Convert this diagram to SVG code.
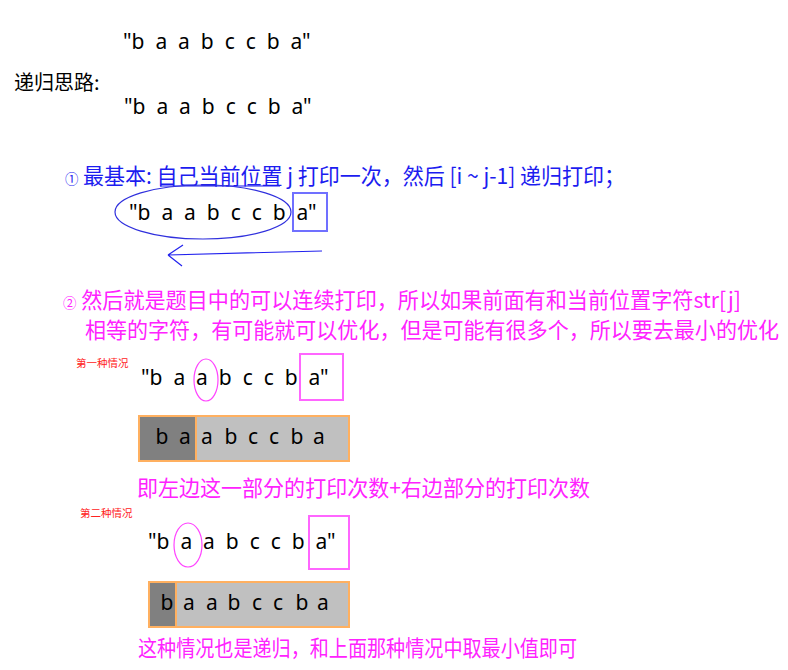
<svg xmlns="http://www.w3.org/2000/svg" width="788" height="670" viewBox="0 0 788 670">
<style>
.lat{font-family:"Noto Sans","Open Sans","DejaVu Sans",sans-serif;font-size:21px;fill:#000;white-space:pre}
.cjk{font-family:"Noto Sans CJK SC",sans-serif;font-size:22px}
.blue{fill:#1c1cf0}
.pink{fill:#ff22ff}
.red{font-family:"Noto Sans CJK SC",sans-serif;font-size:10.5px;fill:#ff2222}
.bar{font-family:"Noto Sans","Open Sans",sans-serif;font-size:21px;fill:#000;text-anchor:middle}
.orange{stroke:#ffb060;stroke-width:2}
</style>
<rect width="788" height="670" fill="#fff"/>

<g id="title">
<text class="lat" x="123" y="49" xml:space="preserve">"b  a  a  b  c  c  b  a"</text>
<text x="14" y="90" fill="#000" font-family="Noto Sans CJK SC, sans-serif" font-size="20">递归思路:</text>
<text class="lat" x="124" y="114" xml:space="preserve">"b  a  a  b  c  c  b  a"</text>
</g>

<g id="rule1">
<text class="cjk blue" x="65" y="184" textLength="560" lengthAdjust="spacingAndGlyphs"><tspan font-size="14">①</tspan> 最基本: 自己当前位置 j 打印一次，然后 [i ~ j-1] 递归打印；</text>
<line x1="160" y1="186" x2="280" y2="186" stroke="#1c1cf0" stroke-width="1.2"/>
</g>

<g id="rule1-string">
<ellipse cx="203" cy="212" rx="88" ry="27" fill="none" stroke="#3030dd" stroke-width="1.2"/>
<text class="lat" x="129" y="220" xml:space="preserve">"b  a  a  b  c  c  b  a"</text>
<rect x="293" y="193" width="34" height="38" fill="none" stroke="#7070ff" stroke-width="2"/>
</g>

<g id="connectors">
<path d="M322 251 L168 255 M168 255 L183 245 M168 255 L182 266" fill="none" stroke="#2222ee" stroke-width="1.2"/>
</g>

<g id="rule2">
<text class="cjk pink" x="63" y="308" textLength="678" lengthAdjust="spacingAndGlyphs"><tspan font-size="14">②</tspan> 然后就是题目中的可以连续打印，所以如果前面有和当前位置字符str[j]</text>
<text class="cjk pink" x="85" y="338" textLength="694" lengthAdjust="spacingAndGlyphs">相等的字符，有可能就可以优化，但是可能有很多个，所以要去最小的优化</text>
</g>

<g id="case1">
<text class="red" x="76" y="367">第一种情况</text>
<text class="lat" x="141" y="385" xml:space="preserve">"b  a  a  b  c  c  b  a"</text>
<ellipse cx="206" cy="380" rx="12" ry="21" fill="none" stroke="#ff44ff" stroke-width="1.2"/>
<rect x="300" y="354" width="43" height="46" fill="none" stroke="#ff66ff" stroke-width="2"/>
<rect x="139" y="416" width="57" height="45" fill="#808080"/>
<rect x="196" y="416" width="153" height="45" fill="#c0c0c0"/>
<rect x="139" y="416" width="210" height="45" fill="none" class="orange"/>
<line x1="196" y1="416" x2="196" y2="461" class="orange"/>
<text class="bar" y="444"><tspan x="162">b</tspan><tspan x="185">a</tspan><tspan x="207">a</tspan><tspan x="231">b</tspan><tspan x="253">c</tspan><tspan x="274">c</tspan><tspan x="297">b</tspan><tspan x="319">a</tspan></text>
<text class="cjk pink" x="137" y="496" font-size="21.5" textLength="453" lengthAdjust="spacingAndGlyphs">即左边这一部分的打印次数+右边部分的打印次数</text>
</g>

<g id="case2">
<text class="red" x="80" y="517">第二种情况</text>
<text class="lat" x="148" y="549" xml:space="preserve">"b  a  a  b  c  c  b  a"</text>
<ellipse cx="188" cy="545" rx="14" ry="22" fill="none" stroke="#ff44ff" stroke-width="1.2"/>
<rect x="309" y="516" width="40" height="53" fill="none" stroke="#ff66ff" stroke-width="2"/>
<rect x="149" y="582" width="27" height="45" fill="#808080"/>
<rect x="176" y="582" width="173" height="45" fill="#c0c0c0"/>
<rect x="149" y="582" width="200" height="45" fill="none" class="orange"/>
<line x1="176" y1="582" x2="176" y2="627" class="orange"/>
<text class="bar" y="610"><tspan x="167">b</tspan><tspan x="189">a</tspan><tspan x="212">a</tspan><tspan x="234">b</tspan><tspan x="257">c</tspan><tspan x="278">c</tspan><tspan x="302">b</tspan><tspan x="323">a</tspan></text>
<text class="cjk pink" x="138" y="656" font-size="21.5" textLength="439" lengthAdjust="spacingAndGlyphs">这种情况也是递归，和上面那种情况中取最小值即可</text>
</g>
</svg>
